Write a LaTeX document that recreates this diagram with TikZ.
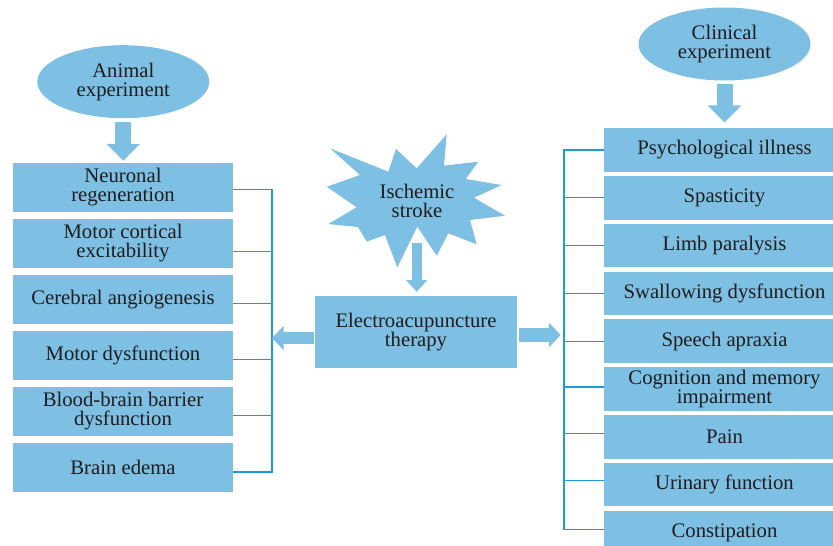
\documentclass[tikz,border=0pt]{standalone}
\usepackage{fontspec}
\setmainfont{Liberation Serif}
\usetikzlibrary{positioning,shapes.geometric,arrows.meta}
\definecolor{boxblue}{HTML}{7DC0E4}
\definecolor{linkblue}{HTML}{1E9BD7}
\definecolor{inkgray}{HTML}{1F1C1D}
\tikzset{
  lbox/.style={fill=boxblue, text=inkgray, minimum width=220pt, minimum height=49pt, inner sep=0pt, align=center, font=\fontsize{20.7}{19}\selectfont},
  rbox/.style={lbox, minimum width=241pt, minimum height=43.5pt},
  oval/.style={ellipse, fill=boxblue, text=inkgray, minimum width=172pt, minimum height=73pt, inner sep=0pt, align=center, font=\fontsize{20.7}{19}\selectfont},
  link/.style={draw=linkblue, line width=1.1pt},
  bigarrow/.style={draw=boxblue, line width=16pt, -{Triangle[width=32.5pt,length=17pt]}},
  midarrow/.style={draw=boxblue, line width=13pt, -{Triangle[width=23.5pt,length=11.5pt]}},
  smallarrow/.style={draw=boxblue, line width=10pt, -{Triangle[width=21pt,length=12pt]}}
}
\begin{document}
\begin{tikzpicture}[x=1pt,y=-1pt]
\useasboundingbox (0,0) rectangle (833,546);

\node[oval] (ani) at (123.3,81.7) {Animal\\experiment};
\node[oval] (cli) at (724.5,44) {Clinical\\experiment};

\node[lbox] (lb1) at (123,187.5) {Neuronal\\regeneration};
\node[lbox, below=6.5pt of lb1] (lb2) {Motor cortical\\excitability};
\node[lbox, below=6.5pt of lb2] (lb3) {Cerebral angiogenesis};
\node[lbox, below=6.5pt of lb3] (lb4) {Motor dysfunction};
\node[lbox, below=6.5pt of lb4] (lb5) {Blood-brain barrier\\dysfunction};
\node[lbox, below=6.5pt of lb5] (lb6) {Brain edema};

\node[rbox] (rb1) at (724.5,150) {Psychological illness};
\node[rbox, below=3.9pt of rb1] (rb2) {Spasticity};
\node[rbox, below=3.9pt of rb2] (rb3) {Limb paralysis};
\node[rbox, below=3.9pt of rb3] (rb4) {Swallowing dysfunction};
\node[rbox, below=3.9pt of rb4] (rb5) {Speech apraxia};
\node[rbox, below=3.9pt of rb5] (rb6) {Cognition and memory\\impairment};
\node[rbox, below=3.9pt of rb6] (rb7) {Pain};
\node[rbox, below=3.9pt of rb7] (rb8) {Urinary function};
\node[rbox, below=3.9pt of rb8] (rb9) {Constipation};

\fill[boxblue] (446.7,134.3) -- (444,165.7) -- (478.3,161.7) -- (465.7,179) -- (501.7,185) -- (474,197.7) -- (505,215.7) -- (470,220) -- (476.7,244.3) -- (448.3,233.3) -- (436.7,255.7) -- (417.3,226.7) -- (397.3,267.3) -- (385,235) -- (366.7,241.7) -- (358,227) -- (328.3,224) -- (356.7,207.3) -- (326.7,186.7) -- (360,175) -- (330,148.3) -- (388.3,171.7) -- (396,149) -- (416.7,168.3) -- cycle;
\node[text=inkgray, align=center, font=\fontsize{20.7}{19}\selectfont] (isc) at (417,201) {Ischemic\\stroke};
\coordinate (iscfoot) at (416.7,242.7);

\node[lbox, minimum width=202pt, minimum height=72pt] (eat) at (416,332) {Electroacupuncture\\therapy};

\coordinate (lbar) at (272,0);
\coordinate (rbar) at (564,0);

\draw[link] ([yshift=-2pt]lb1.east) -- ([yshift=-2pt]lb1.east -| lbar) -- ([yshift=-5pt]lb6.east -| lbar) -- ([yshift=-5pt]lb6.east);
\draw[link] ([yshift=-8pt]lb2.east) -- ([yshift=-8pt]lb2.east -| lbar);
\draw[link] ([yshift=-4pt]lb3.east) -- ([yshift=-4pt]lb3.east -| lbar);
\draw[link] ([yshift=-4pt]lb4.east) -- ([yshift=-4pt]lb4.east -| lbar);
\draw[link] ([yshift=-4pt]lb5.east) -- ([yshift=-4pt]lb5.east -| lbar);

\draw[link] (rb1.west) -- (rb1.west -| rbar) -- ([yshift=3pt]rb9.west -| rbar) -- ([yshift=3pt]rb9.west);
\draw[link] (rb2.west) -- (rb2.west -| rbar);
\draw[link] (rb3.west) -- (rb3.west -| rbar);
\draw[link] (rb4.west) -- (rb4.west -| rbar);
\draw[link] (rb5.west) -- (rb5.west -| rbar);
\draw[link] ([yshift=2pt]rb6.west) -- ([yshift=2pt]rb6.west -| rbar);
\draw[link] ([yshift=3pt]rb7.west) -- ([yshift=3pt]rb7.west -| rbar);
\draw[link] ([yshift=4pt]rb8.west) -- ([yshift=4pt]rb8.west -| rbar);

\draw[bigarrow, shorten <=4pt, shorten >=2pt] (ani.south) -- (ani.south |- lb1.north);
\draw[bigarrow, shorten <=3.3pt, shorten >=5.6pt] (cli.south) -- (cli.south |- rb1.north);
\draw[smallarrow, shorten >=4pt] (iscfoot) -- (iscfoot |- eat.north);
\draw[midarrow, line width=11.7pt, shorten <=1pt] ([yshift=-6pt]eat.west) -- ([yshift=-6pt]eat.west -| lbar);
\draw[midarrow, line width=14.4pt, shorten <=2pt, shorten >=3.3pt] ([yshift=-3pt]eat.east) -- ([yshift=-3pt]eat.east -| rbar);
\end{tikzpicture}
\end{document}
